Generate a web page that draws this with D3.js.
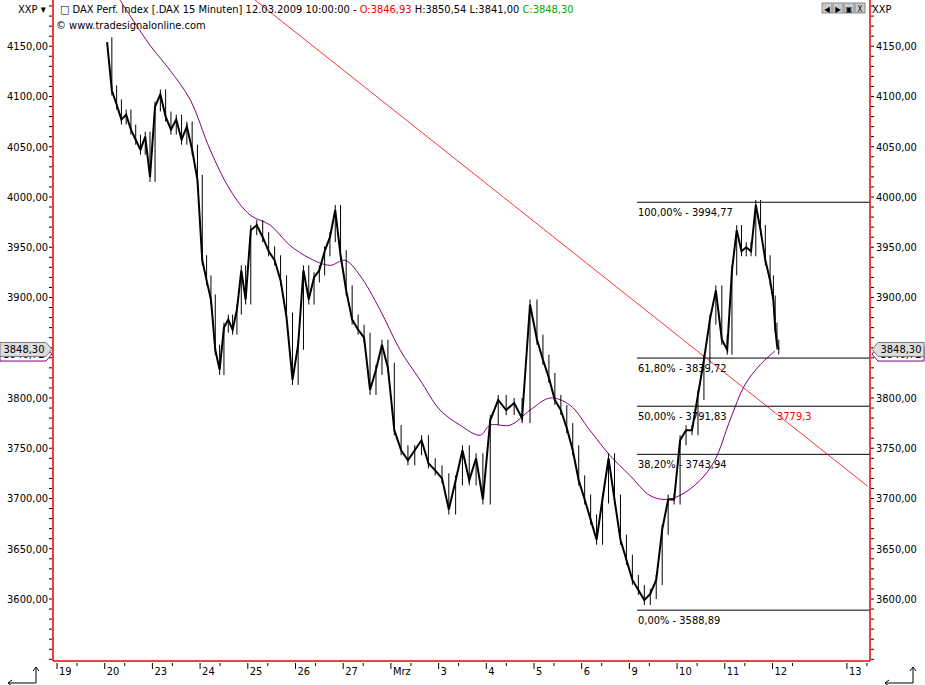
<!DOCTYPE html>
<html><head><meta charset="utf-8">
<script src="https://cdn.jsdelivr.net/npm/d3@7"></script>
<style>body{margin:0;background:#fff}text{font-family:"DejaVu Sans Condensed","DejaVu Sans",sans-serif}</style>
</head><body><svg id="c" width="925" height="685"></svg>
<script>
// trading days (index 0 = 19 Feb), 13 is a future day
const dayLabels = ["19","20","23","24","25","26","27","Mrz","3","4","5","6","9","10","11","12","13"]
const dayIndex  = [0,1,2,3,4,5,6,7,8,9,10,11,12,13,14,15,16.56]
// 15-min closes read per day
const closes = [
  [],
  [4154,4106,4092,4077,4082,4067,4057,4047,4060,4020],
  [4090,4102,4080,4067,4077,4057,4070,4047,4017],
  [3937,3917,3898,3848,3828,3870,3878,3868,3888,3927,3898],
  [3967,3972,3960,3946,3937,3917,3880,3818],
  [3853,3927,3898,3920,3927,3946,3960,3987,3942],
  [3907,3878,3868,3860,3808,3828,3853,3830],
  [3768,3748,3738,3748,3758,3735,3728],
  [3720,3689,3718,3748,3718,3740,3699],
  [3778,3798,3788,3795,3780,3893],
  [3858,3838,3820,3798,3788,3770,3748,3718],
  [3699,3679,3659,3700,3740,3699,3659,3639],
  [3619,3609,3599,3605,3619,3669,3699,3699],
  [3758,3768,3768,3803,3838,3878,3907,3858],
  [3848,3927,3967,3946,3950,3946,3992,3967,3937,3917],
  [3897,3870,3853,3848.3]
]
const daySpan = [1,1,1,1,1,1,1,1,1,1,1,1,1,1,1,0.15]
const maT = [1.32,1.95,2.37,2.79,3.21,3.63,4.05,4.47,4.88,5.30,5.72,6.04,6.35,6.77,7.19,7.61,8.03,8.45,8.87,9.08,9.50,9.92,10.34,10.75,11.17,11.59,12.01,12.43,12.75,13.06,13.48,13.79,14.11,14.42,14.74,15.05]
const maV = [4196,4151,4126,4097,4047,4007,3982,3972,3952,3939,3932,3937,3922,3888,3848,3818,3788,3773,3763,3773,3773,3788,3800,3793,3768,3743,3723,3703,3699,3703,3718,3738,3778,3813,3833,3846.72]
const trendT = [4.15,17.0], trendV = [4196,3712]
const fibPct = ["100,00%","61,80%","50,00%","38,20%","0,00%"]
const fibV = [3994.77,3839.72,3791.83,3743.94,3588.89]
const fibStartT = 12.16
const yTicks = [3600,3650,3700,3750,3800,3850,3900,3950,4000,4050,4100,4150]

const L = 53, R = 870, B = 661
const x = d3.scaleLinear().domain([0,1]).range([57,104.7])
const y = d3.scaleLinear().domain([3600,4196]).range([599,0])
const fmt = v => d3.format(".2f")(v).replace(".", ",")
const svg = d3.select("#c")

svg.append("clipPath").attr("id","cp").append("rect").attr("x",L).attr("y",0).attr("width",R-L).attr("height",B)
const g = svg.append("g").attr("clip-path","url(#cp)")

// fib lines
fibV.forEach((v,i)=>{
  g.append("line").attr("x1",x(fibStartT)).attr("x2",R).attr("y1",y(v)).attr("y2",y(v)).attr("stroke","#000")
  g.append("text").attr("x",x(fibStartT)+1).attr("y",y(v)+14).attr("font-size",11).text(fibPct[i]+" - "+fmt(v))
})
// trend line
g.append("line").attr("x1",x(trendT[0])).attr("y1",y(trendV[0])).attr("x2",x(trendT[1])).attr("y2",y(trendV[1])).attr("stroke","#f00").attr("stroke-width",0.8)
g.append("text").attr("x",777).attr("y",y(3779.3)+1).attr("fill","#f00").attr("font-size",11).text("3779,3")
// moving average
g.append("path").datum(maT.map((t,i)=>[t,maV[i]])).attr("fill","none").attr("stroke","#800080").attr("stroke-width",1)
  .attr("d",d3.line().x(d=>x(d[0])).y(d=>y(d[1])).curve(d3.curveCatmullRom))
// price series, one continuous path
const pts = []
closes.forEach((arr,d)=>arr.forEach((v,i)=>pts.push([d + (i+0.5)*daySpan[d]/arr.length, v])))
g.append("path").datum(pts).attr("fill","none").attr("stroke","#000").attr("stroke-width",2)
  .attr("d",d3.line().x(p=>x(p[0])).y(p=>y(p[1])))
pts.forEach((p,i)=>{ if(i>0){ const a=pts[i-1][1],b=p[1]
  g.append("line").attr("x1",x(p[0])).attr("x2",x(p[0])).attr("y1",y(Math.max(a,b)+5)).attr("y2",y(Math.min(a,b)-5)).attr("stroke","#000") } })

// frame
svg.append("line").attr("x1",L).attr("x2",L).attr("y1",0).attr("y2",B).attr("stroke","#e00").attr("stroke-width",1.5)
svg.append("line").attr("x1",R).attr("x2",R).attr("y1",0).attr("y2",B).attr("stroke","#e00").attr("stroke-width",1.5)
svg.append("line").attr("x1",L).attr("x2",R).attr("y1",B).attr("y2",B).attr("stroke","#e00").attr("stroke-width",1.5)

// y axes
d3.range(3540,4200,10).forEach(v=>{
  svg.append("line").attr("x1",R+1).attr("x2",R+4).attr("y1",y(v)).attr("y2",y(v)).attr("stroke","#000")
  svg.append("line").attr("x1",L-4).attr("x2",L-1).attr("y1",y(v)).attr("y2",y(v)).attr("stroke","#000")
})
yTicks.forEach(v=>{
  svg.append("text").attr("x",R+6).attr("y",y(v)+4).attr("font-size",11).text(fmt(v))
  svg.append("text").attr("x",L-5).attr("y",y(v)+4).attr("font-size",11).attr("text-anchor","end").text(fmt(v))
})
// price tags
function tag(xp, dir){
  const mk = (yy,fill,stroke,txt)=>{
    const w = 46, p = dir>0 ? `M${xp},${yy} l6,-7 h${w} v14 h-${w} z` : `M${xp},${yy} l-6,-7 h-${w} v14 h${w} z`
    svg.append("path").attr("d",p).attr("fill",fill).attr("stroke",stroke)
    svg.append("text").attr("x",dir>0?xp+29:xp-28).attr("y",yy+4).attr("font-size",11).attr("text-anchor","middle").text(txt)
  }
  mk(y(3846.72)+3,"#fff","#800080",fmt(3846.72))
  mk(y(3848.3),"#ddd","#777",fmt(3848.3))
}
tag(R+2,1); tag(L-1,-1)

// x axis
dayLabels.forEach((lab,i)=>{
  const xx = x(dayIndex[i])
  svg.append("line").attr("x1",xx).attr("x2",xx).attr("y1",B+2).attr("y2",B+8).attr("stroke","#000")
  svg.append("line").attr("x1",xx+20).attr("x2",xx+20).attr("y1",B+2).attr("y2",B+5).attr("stroke","#000")
  svg.append("text").attr("x",xx+2).attr("y",B+14).attr("font-size",11).text(lab)
})

// header
svg.append("text").attr("x",18).attr("y",13).attr("font-size",11).text("XXP ▾")
svg.append("text").attr("x",872).attr("y",13).attr("font-size",11).text("XXP")
const h = svg.append("text").attr("x",60).attr("y",13).attr("font-size",11)
h.append("tspan").text("□ DAX Perf. Index [.DAX  15 Minuten] 12.03.2009 10:00:00 - ")
h.append("tspan").attr("fill","#e00").text("O:3846,93 ")
h.append("tspan").text("H:3850,54 L:3841,00 ")
h.append("tspan").attr("fill","#0a0").text("C:3848,30")
svg.append("text").attr("x",56).attr("y",29).attr("font-size",11).text("© www.tradesignalonline.com")
;["◀","▶","▣","X"].forEach((s,i)=>{
  svg.append("rect").attr("x",822+i*11).attr("y",3).attr("width",10).attr("height",10).attr("fill","#ccc").attr("stroke","#888")
  svg.append("text").attr("x",827+i*11).attr("y",12).attr("font-size",8).attr("text-anchor","middle").text(s)
})
// corner arrows
const arr = xx => svg.append("path").attr("d",`M${xx},683 h28 v-16 M${xx+25},671 l3,-4 l3,4 M${xx},683 l4,-3 M${xx},683 l4,3`).attr("fill","none").attr("stroke","#000")
arr(8); arr(885)
</script></body></html>
